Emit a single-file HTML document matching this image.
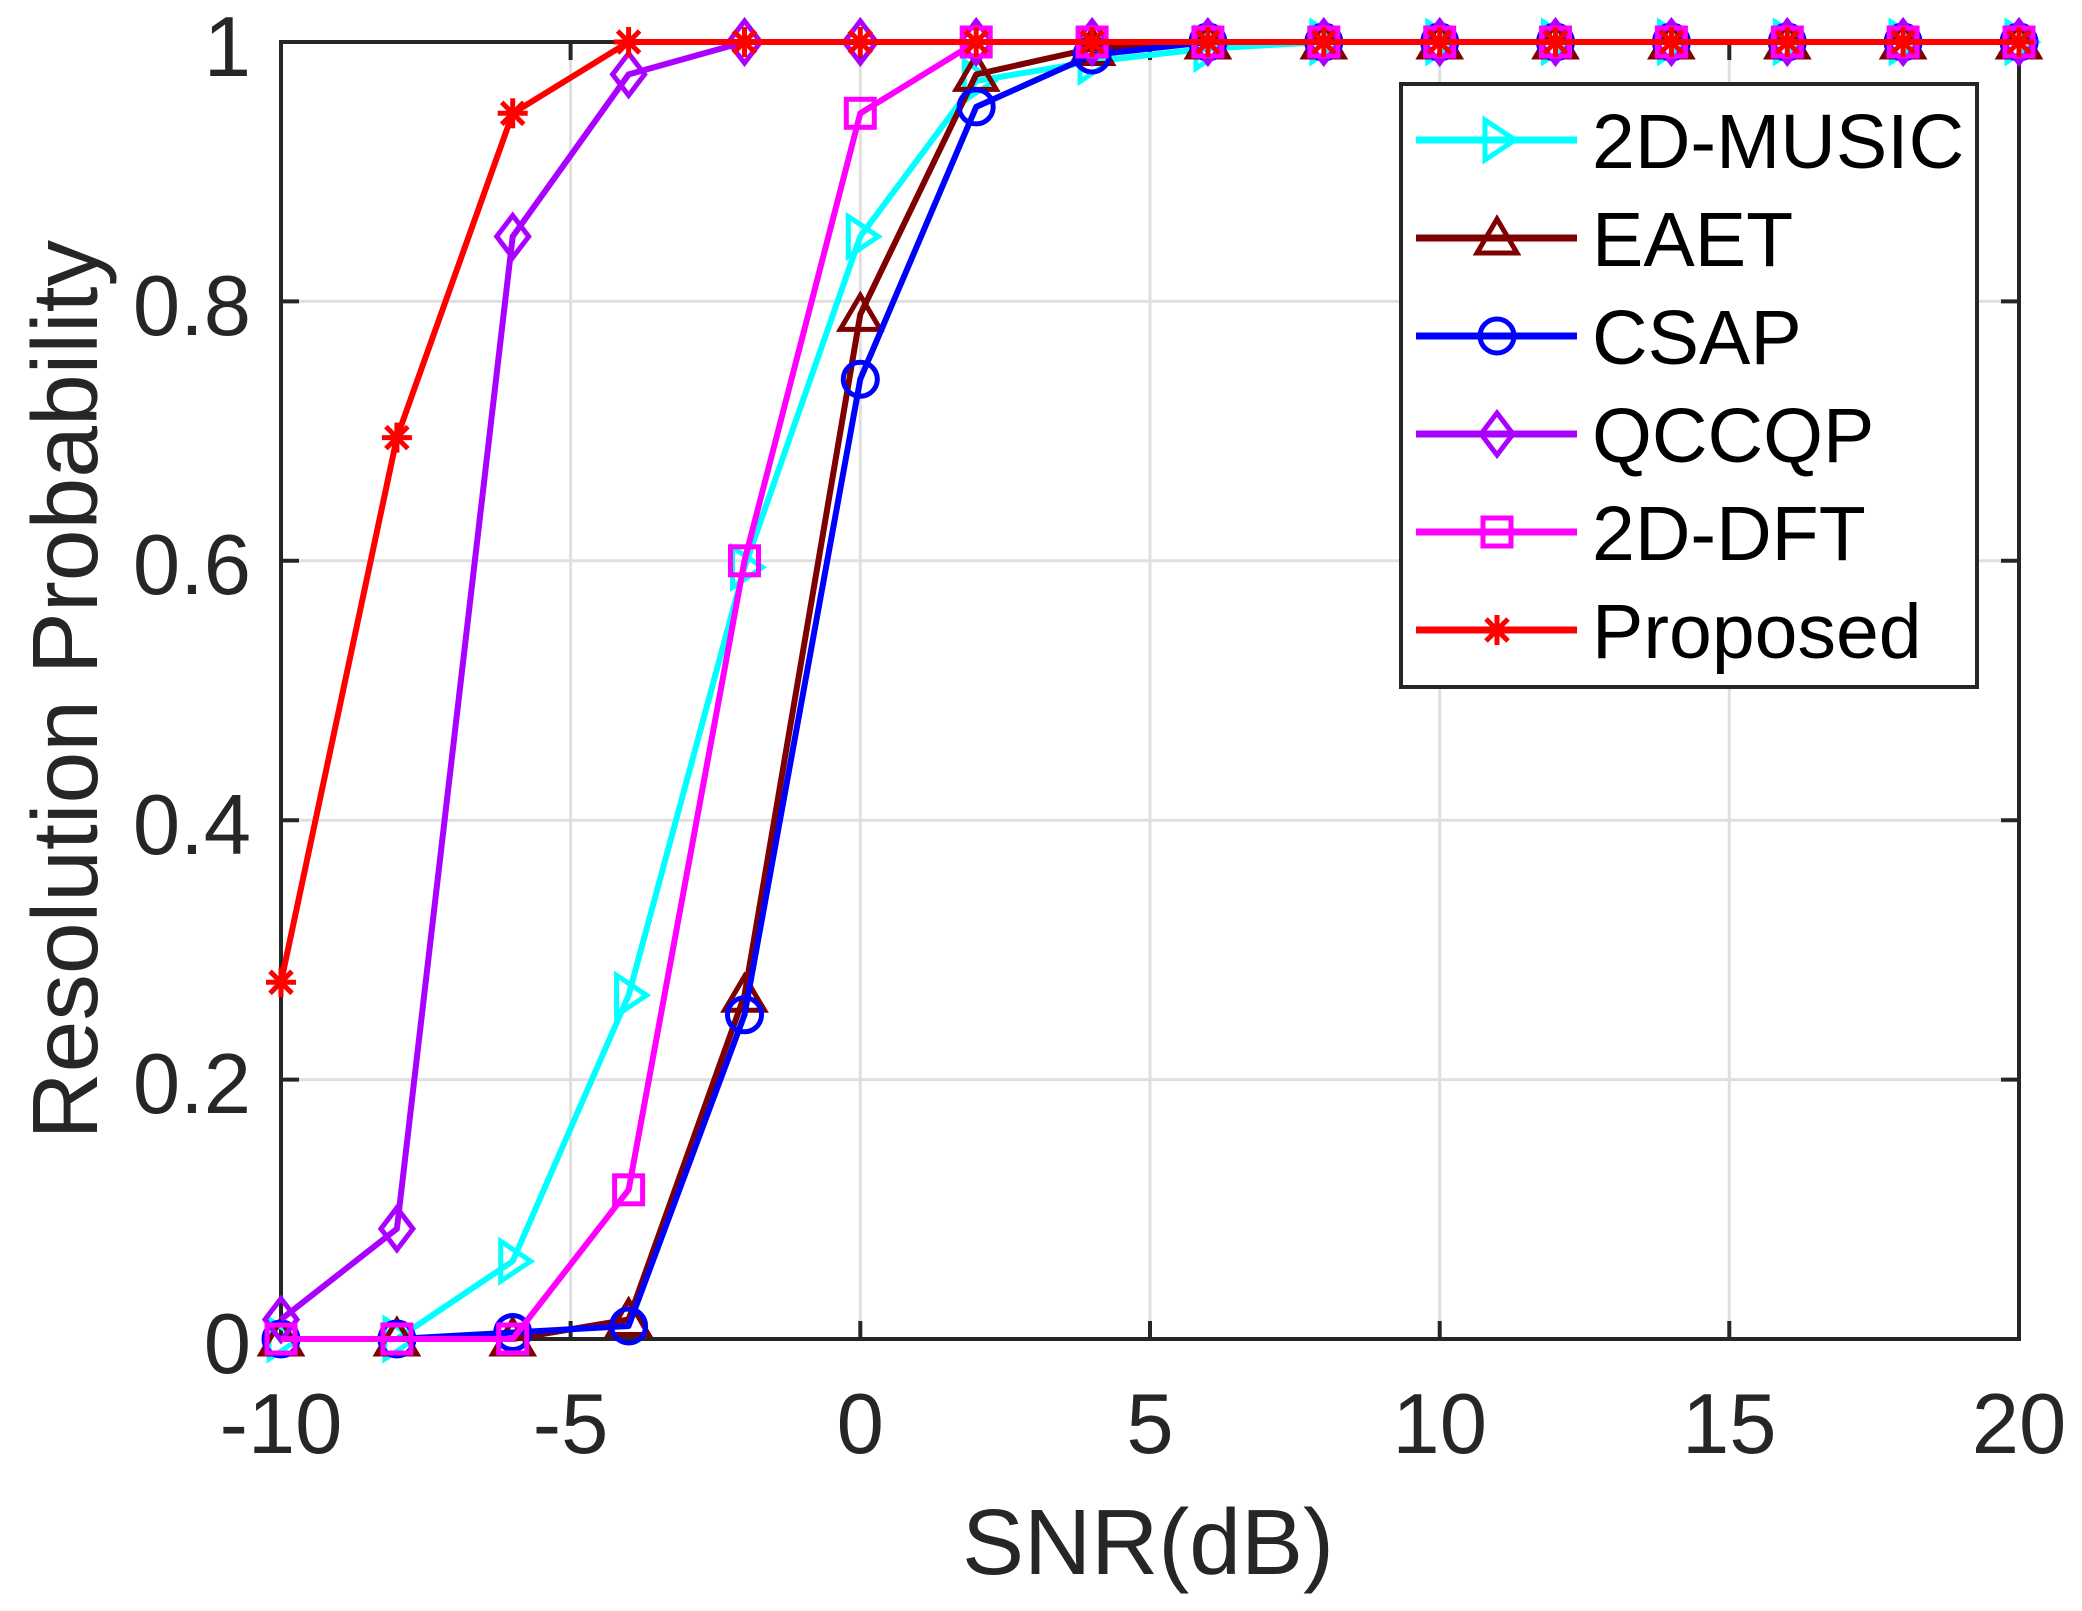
<!DOCTYPE html>
<html><head><meta charset="utf-8"><style>html,body{margin:0;padding:0;background:#fff}svg{display:block}</style></head>
<body>
<svg width="2082" height="1611" viewBox="0 0 2082 1611" xmlns="http://www.w3.org/2000/svg" font-family="'Liberation Sans', sans-serif">
<defs>
<marker id="mR" markerUnits="userSpaceOnUse" viewBox="-30 -30 60 60" markerWidth="60" markerHeight="60" refX="0" refY="0" orient="0" overflow="visible"><polygon points="-12,-20 18,0 -12,20" fill="none" stroke="#00FFFF" stroke-width="5"/></marker>
<marker id="mU" markerUnits="userSpaceOnUse" viewBox="-30 -30 60 60" markerWidth="60" markerHeight="60" refX="0" refY="0" orient="0" overflow="visible"><polygon points="-20,15 0,-19 20,15" fill="none" stroke="#7F0000" stroke-width="5"/></marker>
<marker id="mC" markerUnits="userSpaceOnUse" viewBox="-30 -30 60 60" markerWidth="60" markerHeight="60" refX="0" refY="0" orient="0" overflow="visible"><circle r="17" fill="none" stroke="#0000FF" stroke-width="5"/></marker>
<marker id="mD" markerUnits="userSpaceOnUse" viewBox="-30 -30 60 60" markerWidth="60" markerHeight="60" refX="0" refY="0" orient="0" overflow="visible"><polygon points="0,-21 16,0 0,21 -16,0" fill="none" stroke="#AA00FF" stroke-width="5"/></marker>
<marker id="mS" markerUnits="userSpaceOnUse" viewBox="-30 -30 60 60" markerWidth="60" markerHeight="60" refX="0" refY="0" orient="0" overflow="visible"><rect x="-14" y="-14" width="28" height="28" fill="none" stroke="#FF00FF" stroke-width="5"/></marker>
<marker id="mA" markerUnits="userSpaceOnUse" viewBox="-30 -30 60 60" markerWidth="60" markerHeight="60" refX="0" refY="0" orient="0" overflow="visible"><g stroke="#FF0000" stroke-width="5"><line x1="-15" y1="0" x2="15" y2="0"/><line x1="0" y1="-15" x2="0" y2="15"/><line x1="-11" y1="-11" x2="11" y2="11"/><line x1="-11" y1="11" x2="11" y2="-11"/></g></marker>
</defs>
<rect x="281" y="42" width="1738" height="1297" fill="#fff"/>
<g stroke="#dfdfdf" stroke-width="3">
<line x1="570.6" y1="42" x2="570.6" y2="1339"/><line x1="860.3" y1="42" x2="860.3" y2="1339"/><line x1="1150" y1="42" x2="1150" y2="1339"/><line x1="1439.7" y1="42" x2="1439.7" y2="1339"/><line x1="1729.3" y1="42" x2="1729.3" y2="1339"/>
<line x1="281" y1="1079.6" x2="2019" y2="1079.6"/><line x1="281" y1="820.2" x2="2019" y2="820.2"/><line x1="281" y1="560.8" x2="2019" y2="560.8"/><line x1="281" y1="301.4" x2="2019" y2="301.4"/>
</g>
<g stroke="#262626" stroke-width="4">
<path d="M570.6,1339v-18M860.3,1339v-18M1150,1339v-18M1439.7,1339v-18M1729.3,1339v-18M570.6,42v18M860.3,42v18M1150,42v18M1439.7,42v18M1729.3,42v18M281,1079.6h18M281,820.2h18M281,560.8h18M281,301.4h18M2019,1079.6h-18M2019,820.2h-18M2019,560.8h-18M2019,301.4h-18"/>
<rect x="281" y="42" width="1738" height="1297" fill="none"/>
</g>
<g fill="none" stroke-width="6" stroke-linejoin="round">
<polyline stroke="#00FFFF" marker-start="url(#mR)" marker-mid="url(#mR)" marker-end="url(#mR)" points="281,1339 396.9,1339 512.7,1261.2 628.6,995.3 744.5,567.3 860.3,236.5 976.2,80.9 1092.1,61.5 1207.9,48.5 1323.8,42 1439.7,42 1555.5,42 1671.4,42 1787.3,42 1903.1,42 2019,42"/>
<polyline stroke="#7F0000" marker-start="url(#mU)" marker-mid="url(#mU)" marker-end="url(#mU)" points="281,1339 396.9,1339 512.7,1339 628.6,1319.5 744.5,995.3 860.3,314.4 976.2,74.4 1092.1,48.5 1207.9,42 1323.8,42 1439.7,42 1555.5,42 1671.4,42 1787.3,42 1903.1,42 2019,42"/>
<polyline stroke="#0000FF" marker-start="url(#mC)" marker-mid="url(#mC)" marker-end="url(#mC)" points="281,1339 396.9,1339 512.7,1332.5 628.6,1326 744.5,1014.8 860.3,379.2 976.2,106.9 1092.1,55 1207.9,42 1323.8,42 1439.7,42 1555.5,42 1671.4,42 1787.3,42 1903.1,42 2019,42"/>
<polyline stroke="#AA00FF" marker-start="url(#mD)" marker-mid="url(#mD)" marker-end="url(#mD)" points="281,1319.5 396.9,1228.8 512.7,236.5 628.6,74.4 744.5,42 860.3,42 976.2,42 1092.1,42 1207.9,42 1323.8,42 1439.7,42 1555.5,42 1671.4,42 1787.3,42 1903.1,42 2019,42"/>
<polyline stroke="#FF00FF" marker-start="url(#mS)" marker-mid="url(#mS)" marker-end="url(#mS)" points="281,1339 396.9,1339 512.7,1339 628.6,1189.8 744.5,560.8 860.3,113.3 976.2,42 1092.1,42 1207.9,42 1323.8,42 1439.7,42 1555.5,42 1671.4,42 1787.3,42 1903.1,42 2019,42"/>
<polyline stroke="#FF0000" marker-start="url(#mA)" marker-mid="url(#mA)" marker-end="url(#mA)" points="281,982.3 396.9,437.6 512.7,113.3 628.6,42 744.5,42 860.3,42 976.2,42 1092.1,42 1207.9,42 1323.8,42 1439.7,42 1555.5,42 1671.4,42 1787.3,42 1903.1,42 2019,42"/>
</g>
<g fill="#262626" font-size="85">
<text x="251" y="1373" text-anchor="end">0</text>
<text x="251" y="1113" text-anchor="end">0.2</text>
<text x="251" y="854" text-anchor="end">0.4</text>
<text x="251" y="594" text-anchor="end">0.6</text>
<text x="251" y="335" text-anchor="end">0.8</text>
<text x="251" y="76" text-anchor="end">1</text>
<g text-anchor="middle">
<text x="281" y="1453">-10</text><text x="570.6" y="1453">-5</text><text x="860.3" y="1453">0</text><text x="1150" y="1453">5</text><text x="1439.7" y="1453">10</text><text x="1729.3" y="1453">15</text><text x="2019" y="1453">20</text>
</g>
</g>
<text x="1148" y="1574" font-size="93" fill="#262626" text-anchor="middle">SNR(dB)</text>
<text transform="translate(97,240) rotate(-90)" font-size="93" fill="#262626" text-anchor="end">Resolution Probability</text>
<rect x="1401" y="84" width="576" height="603" fill="#fff" stroke="#262626" stroke-width="4"/>
<g fill="none" stroke-width="7">
<polyline stroke="#00FFFF" marker-mid="url(#mR)" points="1416,140 1497,140 1577,140"/>
<polyline stroke="#7F0000" marker-mid="url(#mU)" points="1416,238 1497,238 1577,238"/>
<polyline stroke="#0000FF" marker-mid="url(#mC)" points="1416,336 1497,336 1577,336"/>
<polyline stroke="#AA00FF" marker-mid="url(#mD)" points="1416,434 1497,434 1577,434"/>
<polyline stroke="#FF00FF" marker-mid="url(#mS)" points="1416,532 1497,532 1577,532"/>
<polyline stroke="#FF0000" marker-mid="url(#mA)" points="1416,630 1497,630 1577,630"/>
</g>
<g fill="#000" font-size="77">
<text x="1592" y="168">2D-MUSIC</text>
<text x="1592" y="266">EAET</text>
<text x="1592" y="364">CSAP</text>
<text x="1592" y="462">QCCQP</text>
<text x="1592" y="560">2D-DFT</text>
<text x="1592" y="658">Proposed</text>
</g>
</svg>
</body></html>
